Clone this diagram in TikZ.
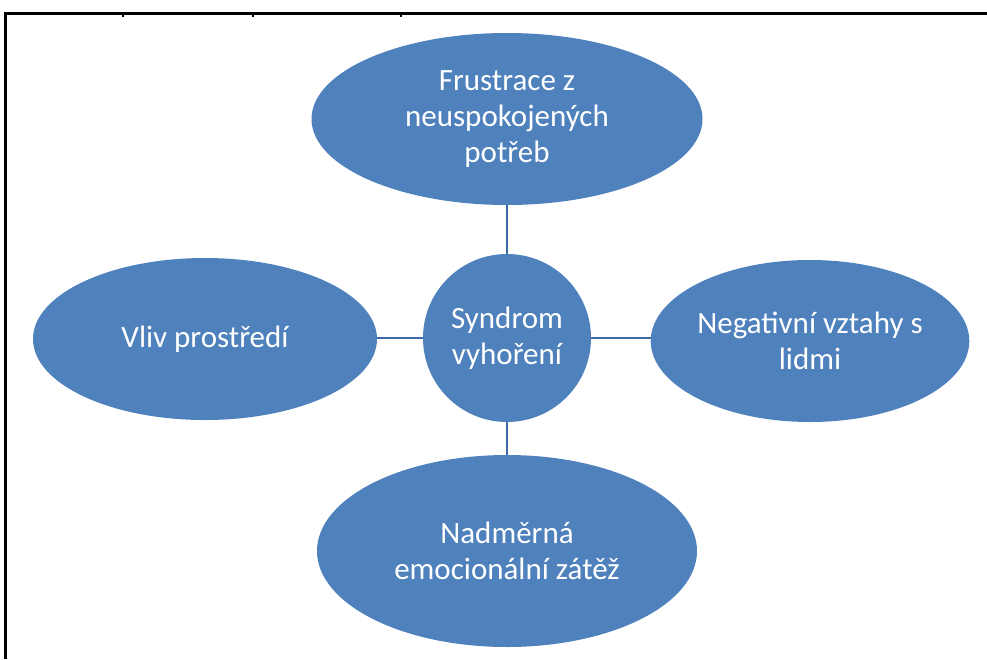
\documentclass[tikz,border=0pt]{standalone}
\usepackage{fontspec}
\setmainfont{Carlito}
\usetikzlibrary{shapes.geometric}
\definecolor{ofblue}{HTML}{4F81BD}
\definecolor{oflink}{HTML}{3C6AA8}
\begin{document}
\begin{tikzpicture}[x=1pt, y=-1pt,
  bubble/.style={ellipse, fill=ofblue, inner sep=0pt, text=white, align=center,
    font=\fontsize{31}{36}\selectfont},
  link/.style={draw=oflink, line width=1.6pt}]
  \useasboundingbox (0,0) rectangle (987,659);
  % frame
  \draw[line width=3pt] (5,659) -- (5,13) -- (990,13);
  \foreach \t in {123,253,401} \draw[line width=1.5pt] (\t,13) -- (\t,17);

  \node[bubble, minimum width=168pt, minimum height=168pt] (syn) at (507,338) {Syndrom\\vyhoření};
  \node[bubble, minimum width=391pt, minimum height=172pt] (fru) at (507,119) {Frustrace z\\neuspokojených\\potřeb};
  \node[bubble, minimum width=344pt, minimum height=162pt] (vli) at (205,339) {Vliv prostředí};
  \node[bubble, minimum width=316pt, minimum height=162pt] (neg) at (810,341) {Negativní vztahy s\\lidmi};
  \node[bubble, minimum width=380pt, minimum height=192pt] (nad) at (507,551) {Nadměrná\\emocionální zátěž};

  \draw[link] (fru.south) -- (syn.north);
  \draw[link] (vli.east |- syn.west) -- (syn.west);
  \draw[link] (syn.east) -- (neg.west |- syn.east);
  \draw[link] (syn.south) -- (nad.north);
\end{tikzpicture}
\end{document}
